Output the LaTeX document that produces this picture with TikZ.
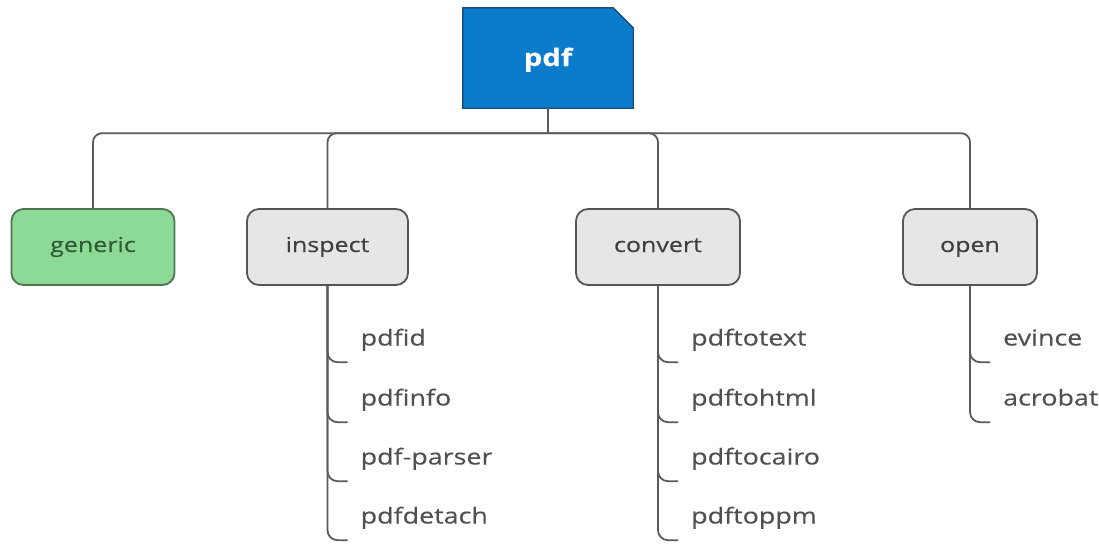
\documentclass[tikz,border=0pt]{standalone}
\usepackage{fontspec}
\setmainfont{Open Sans}[FakeStretch=1.22, FakeBold=0.3]
\usetikzlibrary{calc}
\definecolor{linegray}{HTML}{5A5A5A}
\definecolor{boxgray}{HTML}{E6E6E6}
\definecolor{boxedge}{HTML}{555555}
\definecolor{leafgreen}{HTML}{8CDA96}
\definecolor{greenedge}{HTML}{4E7552}
\definecolor{greentext}{HTML}{2F5A35}
\definecolor{rootblue}{HTML}{0A7CCB}
\definecolor{rootedge}{HTML}{1B4E7E}
\definecolor{labeltext}{HTML}{3F3F3F}
\definecolor{leaftext}{HTML}{505050}
\tikzset{
  conn/.style={draw=linegray, line width=1.8pt},
  branch/.style={draw=boxedge, fill=boxgray, line width=1.8pt, rounded corners=12pt,
    minimum height=76pt, inner sep=0pt, text height=15pt, text depth=5pt,
    text=labeltext, font=\fontsize{20.5}{24}\selectfont},
  leaf/.style={anchor=west, minimum height=48pt, inner sep=0pt, text height=16pt,
    text depth=5pt, text=leaftext, font=\fontsize{22}{26}\selectfont},
  hook/.style={conn, rounded corners=10pt},
}
\begin{document}
\begin{tikzpicture}[x=1pt, y=-1pt]
\useasboundingbox (0,0) rectangle (1099,544);

% root node with a folded top-right corner
\node[minimum width=170pt, minimum height=100pt, inner sep=0pt] (pdf) at (548,58) {};
\fill[rootblue, draw=rootedge, line width=1.4pt]
  (pdf.north west) -- ([xshift=-20pt]pdf.north east) -- ([yshift=-20pt]pdf.north east)
  -- (pdf.south east) -- (pdf.south west) -- cycle;
\node[text=white, text height=17pt, text depth=5pt,
      font=\fontsize{24}{28}\selectfont\bfseries] (pdflabel) at ([yshift=-2pt]pdf.center) {pdf};

% second level
\node[branch, minimum width=163pt, draw=greenedge, fill=leafgreen, text=greentext] (generic) at (93,247) {generic};
\node[branch, minimum width=161pt] (inspect) at (327.5,247) {inspect};
\node[branch, minimum width=164pt] (convert) at (658,247) {convert};
\node[branch, minimum width=134pt] (open) at (970,247) {open};

% bus from the root to the branches
\draw[conn] (pdf.south) -- ++(0,25) coordinate (bus);
\foreach \b in {generic,inspect,convert,open}
  \draw[conn, rounded corners=9pt] (\b.north) |- (bus);

% leaves of inspect
\node[leaf] (pdfid)     at (360.5,340) {pdfid};
\node[leaf] (pdfinfo)   at (360.5,400) {pdfinfo};
\node[leaf] (pdfparser) at (360.5,459) {pdf-parser};
\node[leaf] (pdfdetach) at (360.5,518) {pdfdetach};
% leaves of convert
\node[leaf] (pdftotext)  at (691,340) {pdftotext};
\node[leaf] (pdftohtml)  at (691,400) {pdftohtml};
\node[leaf] (pdftocairo) at (691,459) {pdftocairo};
\node[leaf] (pdftoppm)   at (691,518) {pdftoppm};
% leaves of open
\node[leaf] (evince)  at (1003,340) {evince};
\node[leaf] (acrobat) at (1003,400) {acrobat};

\foreach \p/\l in {inspect/pdfid, inspect/pdfinfo, inspect/pdfparser, inspect/pdfdetach,
                   convert/pdftotext, convert/pdftohtml, convert/pdftocairo, convert/pdftoppm,
                   open/evince, open/acrobat}
  \draw[hook] (\p.south) |- ([xshift=-13pt, yshift=2pt]\l.south west);
\end{tikzpicture}
\end{document}
